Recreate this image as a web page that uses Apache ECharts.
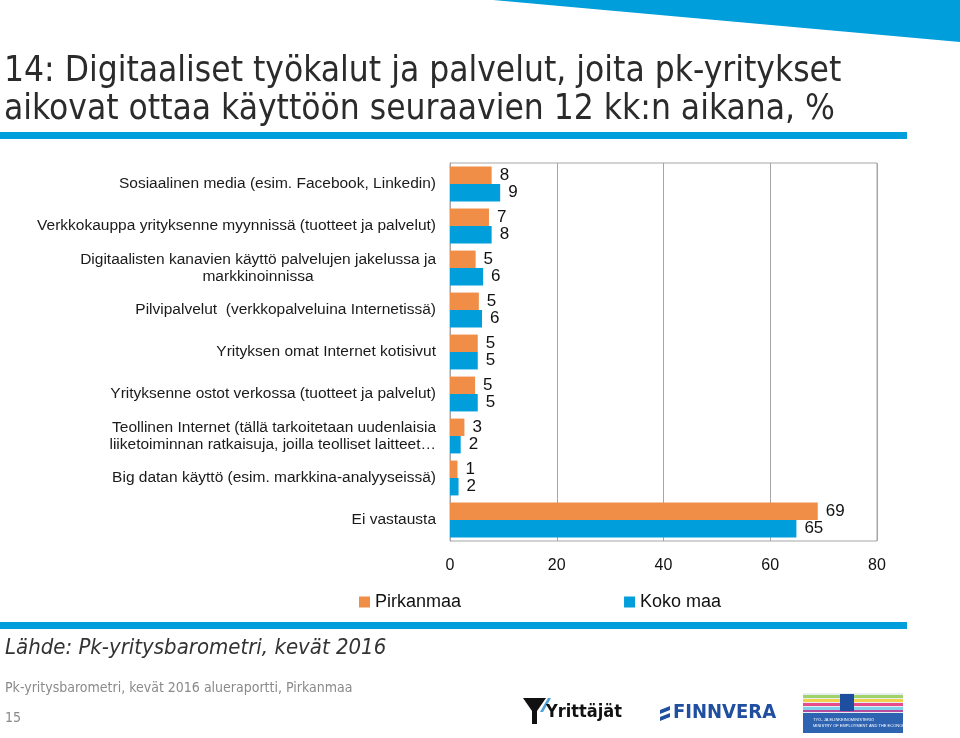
<!DOCTYPE html>
<html>
<head>
<meta charset="utf-8">
<script src="https://cdn.jsdelivr.net/npm/echarts@6/dist/echarts.min.js"></script>
<style>html,body{margin:0;padding:0;background:#fff;}#c{width:960px;height:738px;}</style>
</head>
<body>
<div id="c"></div>
<script>
var categories = [
  'Sosiaalinen media (esim. Facebook, Linkedin)',
  'Verkkokauppa yrityksenne myynnissä (tuotteet ja palvelut)',
  'Digitaalisten kanavien käyttö palvelujen jakelussa ja\nmarkkinoinnissa',
  'Pilvipalvelut  (verkkopalveluina Internetissä)',
  'Yrityksen omat Internet kotisivut',
  'Yrityksenne ostot verkossa (tuotteet ja palvelut)',
  'Teollinen Internet (tällä tarkoitetaan uudenlaisia\nliiketoiminnan ratkaisuja, joilla teolliset laitteet…',
  'Big datan käyttö (esim. markkina-analyyseissä)',
  'Ei vastausta'
];
var pirkanmaa = [7.8, 7.3, 4.8, 5.4, 5.2, 4.7, 2.7, 1.4, 68.9];
var kokoMaa = [9.4, 7.8, 6.2, 6.0, 5.2, 5.2, 2.0, 1.6, 64.9];
var xTicks = [0, 20, 40, 60, 80];
var seriesNames = ['Pirkanmaa', 'Koko maa'];

var ORANGE = '#F08D47';
var BLUE = '#009EDB';
var NARROW = '"DejaVu Sans Condensed", "Liberation Sans", sans-serif';
var LABEL_SIZE = 15.5;
var LABEL_FONT = LABEL_SIZE + 'px "Liberation Sans", Arial, sans-serif';

var mctx = document.createElement('canvas').getContext('2d');
mctx.font = LABEL_FONT;

var chart = echarts.init(document.getElementById('c'), null, {renderer: 'canvas'});

var option = {
  backgroundColor: '#ffffff',
  animation: false,
  textStyle: {fontFamily: '"Liberation Sans", Arial, sans-serif'},
  grid: {left: 450, right: 83, top: 163, bottom: 197, show: true, borderColor: '#a6a6a6', borderWidth: 1},
  legend: {
    data: seriesNames,
    left: 354, top: 588,
    icon: 'rect', itemWidth: 11, itemHeight: 11, itemGap: 163,
    textStyle: {fontSize: 18, color: '#111'}
  },
  xAxis: {
    type: 'value', min: xTicks[0], max: xTicks[xTicks.length - 1], interval: 20,
    axisLine: {show: false}, axisTick: {show: false},
    splitLine: {show: true, lineStyle: {color: '#a6a6a6', width: 1}},
    axisLabel: {fontSize: 16, color: '#111', margin: 17}
  },
  yAxis: {
    type: 'category', data: categories, inverse: true,
    axisLine: {show: true, lineStyle: {color: '#a6a6a6'}},
    axisTick: {show: false},
    axisLabel: {
      fontSize: LABEL_SIZE, color: '#1a1a1a', margin: 14, lineHeight: 17, align: 'right',
      formatter: function (v) {
        if (v.indexOf('Digitaalisten') === 0) {
          var parts = v.split('\n');
          return '{a|' + parts[0] + '}\n{b|' + parts[1] + '}';
        }
        return v;
      },
      rich: {
        a: {fontSize: LABEL_SIZE, lineHeight: 17, color: '#1a1a1a'},
        b: {fontSize: LABEL_SIZE, lineHeight: 17, color: '#1a1a1a', align: 'center',
            width: Math.ceil(mctx.measureText('Digitaalisten kanavien käyttö palvelujen jakelussa ja').width)}
      }
    }
  },
  series: [
    {
      name: seriesNames[0], type: 'bar', data: pirkanmaa,
      itemStyle: {color: ORANGE},
      barGap: '0%', barCategoryGap: '17%',
      label: {show: true, position: 'right', distance: 8, fontSize: 17, color: '#111',
        formatter: function (p) { return Math.round(p.value); }}
    },
    {
      name: seriesNames[1], type: 'bar', data: kokoMaa,
      itemStyle: {color: BLUE},
      barGap: '0%', barCategoryGap: '17%',
      label: {show: true, position: 'right', distance: 8, fontSize: 17, color: '#111',
        formatter: function (p) { return Math.round(p.value); }}
    }
  ],
  graphic: [
    {type: 'polygon', shape: {points: [[493, 0], [960, 0], [960, 42]]}, style: {fill: BLUE}, silent: true},
    {type: 'text', left: 4, top: 53, style: {text: '14: Digitaaliset työkalut ja palvelut, joita pk-yritykset\naikovat ottaa käyttöön seuraavien 12 kk:n aikana, %',
      font: '35px ' + NARROW, lineHeight: 38, fill: '#2b2b2b'}},
    {type: 'rect', shape: {x: 0, y: 132, width: 907, height: 7}, style: {fill: BLUE}, silent: true},
    {type: 'rect', shape: {x: 0, y: 622, width: 907, height: 7}, style: {fill: BLUE}, silent: true},
    {type: 'text', left: 5, top: 637, style: {text: 'Lähde: Pk-yritysbarometri, kevät 2016',
      font: 'italic 22px ' + NARROW, fill: '#333'}},
    {type: 'text', left: 5, top: 681, style: {text: 'Pk-yritysbarometri, kevät 2016 alueraportti, Pirkanmaa',
      font: '14px ' + NARROW, fill: '#8a8a8a'}},
    {type: 'text', left: 5, top: 711, style: {text: '15',
      font: '14px ' + NARROW, fill: '#8a8a8a'}},
    // Yrittäjät logo
    {type: 'polygon', shape: {points: [[523, 698], [546, 698], [537, 711], [537, 724], [532, 724], [532, 711]]}, style: {fill: '#111'}},
    {type: 'polygon', shape: {points: [[540, 712], [548, 698], [551, 698], [543, 712]]}, style: {fill: '#4aa3d8'}},
    {type: 'text', left: 546, top: 703, style: {text: 'Yrittäjät', font: 'bold 18px ' + NARROW, fill: '#111'}},
    // Finnvera logo
    {type: 'polygon', shape: {points: [[660, 710], [670, 706], [670, 710], [660, 714]]}, style: {fill: '#1f4f9e'}},
    {type: 'polygon', shape: {points: [[660, 717], [670, 713], [670, 717], [660, 721]]}, style: {fill: '#1f4f9e'}},
    {type: 'text', left: 673, top: 703, style: {text: 'FINNVERA', font: 'bold 20px ' + NARROW, fill: '#1f4f9e'}},
    // Ministry logo
    {type: 'rect', shape: {x: 803, y: 693, width: 100, height: 40}, style: {fill: '#2d63b0'}},
    {type: 'rect', shape: {x: 803, y: 693, width: 100, height: 20}, style: {fill: '#e8eef0'}},
    {type: 'rect', shape: {x: 803, y: 695, width: 100, height: 3}, style: {fill: '#9fd36a'}},
    {type: 'rect', shape: {x: 803, y: 699, width: 100, height: 3}, style: {fill: '#f2d24a'}},
    {type: 'rect', shape: {x: 803, y: 703, width: 100, height: 3}, style: {fill: '#e84a8a'}},
    {type: 'rect', shape: {x: 803, y: 707, width: 100, height: 3}, style: {fill: '#7fd0e8'}},
    {type: 'rect', shape: {x: 803, y: 710, width: 100, height: 2}, style: {fill: '#b84aa0'}},
    {type: 'rect', shape: {x: 840, y: 694, width: 14, height: 17}, style: {fill: '#1e4f9e'}},
    {type: 'text', left: 813, top: 717, style: {text: 'TYÖ- JA ELINKEINOMINISTERIÖ\nMINISTRY OF EMPLOYMENT AND THE ECONOMY',
      font: '4px "Liberation Sans", sans-serif', fill: '#ffffff', lineHeight: 6}}
  ]
};
chart.setOption(option);
</script>
</body>
</html>
